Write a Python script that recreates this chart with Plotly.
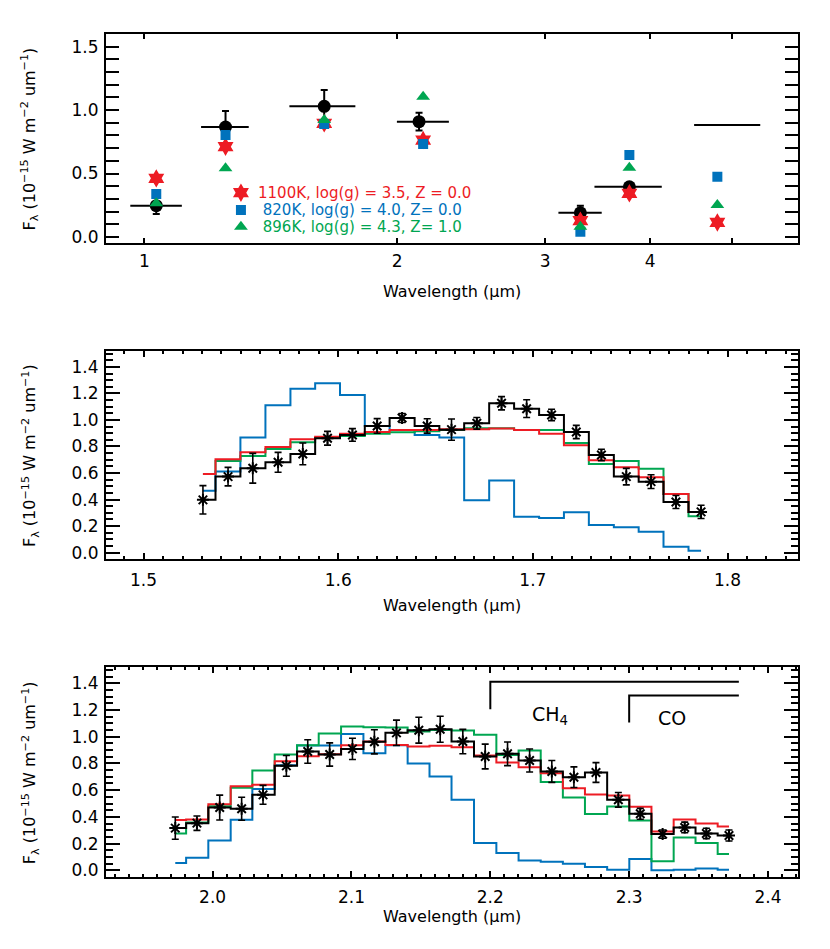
import math
import plotly.graph_objects as go

# ---------------- top panel: photometry + model photometry ----------------
phot_wave = [1.033, 1.249, 1.637, 2.123, 3.304, 3.779, 4.81]
phot_lo = [0.962, 1.168, 1.488, 1.998, 3.111, 3.434, 4.513]
phot_hi = [1.108, 1.331, 1.783, 2.304, 3.503, 4.130, 5.41]
phot_flux = [0.247, 0.867, 1.030, 0.909, 0.191, 0.396, 0.882]
phot_err = [0.066, 0.126, 0.128, 0.070, 0.055, 0.030, 0.0]

model_wave = [1.033, 1.249, 1.637, 2.147, 3.304, 3.779, 4.81]
red_phot = [0.462, 0.712, 0.896, 0.764, 0.128, 0.344, 0.115]
blue_phot = [0.339, 0.804, 0.890, 0.733, 0.042, 0.646, 0.475]
green_phot = [0.265, 0.541, 0.922, 1.106, 0.081, 0.546, 0.252]

model_names = ["1100K, log(g) = 3.5, Z = 0.0",
               " 820K, log(g) = 4.0, Z= 0.0",
               " 896K, log(g) = 4.3, Z= 1.0"]

# ---------------- middle panel: H band spectrum ----------------
h_wave = [1.5305, 1.5434, 1.5561, 1.5691, 1.5818, 1.5945, 1.6073, 1.6200, 1.6328, 1.6457, 1.6582,
          1.6712, 1.6839, 1.6968, 1.7096, 1.7223, 1.7352, 1.7480, 1.7607, 1.7735, 1.7864]
h_flux = [0.398, 0.573, 0.636, 0.681, 0.744, 0.862, 0.887, 0.955, 1.015, 0.955, 0.927,
          0.975, 1.126, 1.085, 1.038, 0.909, 0.736, 0.573, 0.535, 0.382, 0.307]
h_err = [0.107, 0.070, 0.112, 0.075, 0.082, 0.052, 0.048, 0.055, 0.034, 0.054, 0.080,
         0.044, 0.050, 0.067, 0.043, 0.050, 0.043, 0.062, 0.052, 0.049, 0.050]
h_red = [0.593, 0.703, 0.756, 0.796, 0.854, 0.874, 0.897, 0.909, 0.925, 0.925, 0.930,
         0.930, 0.935, 0.925, 0.897, 0.809, 0.696, 0.643, 0.568, 0.442, 0.307]
h_green = [0.593, 0.691, 0.729, 0.781, 0.832, 0.864, 0.879, 0.897, 0.907, 0.915, 0.925,
           0.937, 0.937, 0.925, 0.925, 0.827, 0.668, 0.691, 0.633, 0.442, 0.274]
h_blue = [0.467, 0.611, 0.867, 1.110, 1.236, 1.276, 1.188, 0.955, 0.925, 0.887, 0.867,
          0.394, 0.543, 0.271, 0.261, 0.304, 0.209, 0.191, 0.158, 0.045, 0.015]

# ---------------- bottom panel: K band spectrum ----------------
k_wave = [1.9731, 1.9887, 2.0051, 2.0209, 2.0363, 2.0531, 2.0685, 2.0843, 2.1007, 2.1165, 2.1324,
          2.1485, 2.1639, 2.1802, 2.1963, 2.2124, 2.2283, 2.2443, 2.2602, 2.2761, 2.2922, 2.3080,
          2.3241, 2.3400, 2.3556, 2.3719]
k_flux = [0.316, 0.353, 0.470, 0.461, 0.565, 0.782, 0.889, 0.867, 0.909, 0.962, 1.029,
          1.049, 1.056, 0.964, 0.852, 0.872, 0.822, 0.740, 0.697, 0.732, 0.528, 0.423,
          0.271, 0.321, 0.276, 0.261]
k_err = [0.083, 0.054, 0.093, 0.086, 0.071, 0.078, 0.088, 0.087, 0.080, 0.090, 0.095,
         0.097, 0.097, 0.091, 0.093, 0.088, 0.086, 0.082, 0.077, 0.074, 0.055, 0.041,
         0.031, 0.040, 0.039, 0.041]
k_red = [0.376, 0.381, 0.495, 0.630, 0.640, 0.817, 0.854, 0.869, 0.937, 0.964, 0.939,
         0.927, 0.932, 0.922, 0.859, 0.807, 0.772, 0.727, 0.615, 0.568, 0.560, 0.476,
         0.291, 0.381, 0.351, 0.328]
k_green = [0.276, 0.358, 0.480, 0.618, 0.747, 0.867, 0.937, 1.024, 1.076, 1.071, 1.069,
           1.039, 1.051, 1.046, 1.014, 0.864, 0.897, 0.662, 0.545, 0.421, 0.478, 0.373,
           0.067, 0.246, 0.204, 0.122]
k_blue = [0.054, 0.094, 0.224, 0.378, 0.608, 0.787, 0.934, 0.934, 1.021, 0.877, 0.937,
          0.799, 0.702, 0.528, 0.204, 0.129, 0.074, 0.064, 0.049, 0.024, 0.004, 0.084,
          0.000, 0.004, 0.014, 0.004]

RED, BLUE, GREEN = "#ed1c24", "#0072bc", "#00a651"
FONT = "DejaVu Sans"

fig = go.Figure()

# top panel
fig.add_trace(go.Scatter(
    x=phot_wave, y=phot_flux, mode="markers", xaxis="x", yaxis="y",
    marker=dict(color="black", size=13, opacity=[1 if e > 0 else 0 for e in phot_err]),
    error_x=dict(type="data", symmetric=False,
                 array=[h - w for h, w in zip(phot_hi, phot_wave)],
                 arrayminus=[w - l for w, l in zip(phot_wave, phot_lo)],
                 width=0, thickness=2, color="black"),
    error_y=dict(type="data", array=phot_err, width=3.5, thickness=2, color="black"),
    showlegend=False))
for vals, col, sym, size in [(red_phot, RED, "hexagram", 14),
                             (blue_phot, BLUE, "square", 10),
                             (green_phot, GREEN, "triangle-up", 12)]:
    fig.add_trace(go.Scatter(x=model_wave, y=vals, mode="markers", xaxis="x", yaxis="y",
                             marker=dict(color=col, symbol=sym, size=size, line_width=0),
                             showlegend=False))

# legend keys (overlay axis in the top panel)
key_x = 0.195
key_y = [0.242, 0.159, 0.079]
for name, col, sym, size, ky in zip(model_names, [RED, BLUE, GREEN],
                                    ["hexagram", "square", "triangle-up"], [14, 10, 12], key_y):
    fig.add_trace(go.Scatter(x=[key_x], y=[ky], mode="markers", xaxis="x4", yaxis="y4",
                             marker=dict(color=col, symbol=sym, size=size, line_width=0),
                             showlegend=False, hoverinfo="skip"))
    fig.add_annotation(x=key_x + 0.022, y=ky, xref="x4", yref="y4", text=name, showarrow=False,
                       xanchor="left", yanchor="middle", font=dict(color=col, size=15, family=FONT))

# spectra panels
for xa, ya, wave, flux, err, red, green, blue in [
        ("x2", "y2", h_wave, h_flux, h_err, h_red, h_green, h_blue),
        ("x3", "y3", k_wave, k_flux, k_err, k_red, k_green, k_blue)]:
    for vals, col in [(blue, BLUE), (green, GREEN), (red, RED), (flux, "black")]:
        fig.add_trace(go.Scatter(x=wave, y=vals, mode="lines", xaxis=xa, yaxis=ya,
                                 line=dict(color=col, width=2, shape="hvh"), showlegend=False))
    fig.add_trace(go.Scatter(
        x=wave, y=flux, mode="markers", xaxis=xa, yaxis=ya,
        marker=dict(symbol="asterisk-open", size=10, color="black", line=dict(color="black", width=2)),
        error_y=dict(type="data", array=err, width=3.5, thickness=1.6, color="black"),
        showlegend=False))

axis_common = dict(showline=True, linewidth=2, linecolor="black", mirror="ticks", ticks="inside",
                   tickcolor="black", tickwidth=1.5, showgrid=False, zeroline=False,
                   tickfont=dict(size=17, family=FONT, color="black"), automargin=False)

dom_top = [0.7517, 1.0]
dom_mid = [0.3769, 0.6240]
dom_bot = [0.0, 0.2488]

# the page body adds an 8 px margin, so the figure is 8 px smaller than the window
fig.update_layout(
    width=822, height=941, paper_bgcolor="white", plot_bgcolor="rgba(0,0,0,0)",
    margin=dict(l=98, r=32, t=26, b=72, autoexpand=False),
    font=dict(family=FONT, color="black"),
    xaxis=dict(axis_common, type="log", domain=[0, 1], anchor="y",
               range=[math.log10(0.9), math.log10(6.0)],
               tickvals=[1, 2, 3, 4, 5], ticktext=["1", "2", "3", "4", ""],
               ticklen=5, ticklabelstandoff=1),
    yaxis=dict(axis_common, domain=dom_top, anchor="x", range=[-0.05, 1.6],
               dtick=0.5, tickformat=".1f", ticklen=13, ticklabelstandoff=2,
               minor=dict(dtick=0.1, ticklen=13, ticks="inside", tickcolor="black", showgrid=False)),
    xaxis2=dict(axis_common, domain=[0, 1], anchor="y2", range=[1.4807, 1.8362],
                dtick=0.1, tickformat=".1f", ticklen=6, ticklabelstandoff=4,
                minor=dict(dtick=0.01, ticklen=3, ticks="inside", tickcolor="black", showgrid=False)),
    yaxis2=dict(axis_common, domain=dom_mid, anchor="x2", range=[-0.05, 1.52],
                dtick=0.2, tickformat=".1f", ticklen=14, ticklabelstandoff=2,
                minor=dict(dtick=0.05, ticklen=7, ticks="inside", tickcolor="black", showgrid=False)),
    xaxis3=dict(axis_common, domain=[0, 1], anchor="y3", range=[1.9232, 2.4216],
                dtick=0.1, tickformat=".1f", ticklen=6, ticklabelstandoff=4,
                minor=dict(dtick=0.01, ticklen=3, ticks="inside", tickcolor="black", showgrid=False)),
    yaxis3=dict(axis_common, domain=dom_bot, anchor="x3", range=[-0.05, 1.52],
                dtick=0.2, tickformat=".1f", ticklen=14, ticklabelstandoff=2,
                minor=dict(dtick=0.05, ticklen=7, ticks="inside", tickcolor="black", showgrid=False)),
    xaxis4=dict(domain=[0, 1], anchor="y4", range=[0, 1], visible=False, fixedrange=True),
    yaxis4=dict(domain=dom_top, anchor="x4", range=[0, 1], visible=False, fixedrange=True),
)

# axis titles
ytitle = "F<sub>λ</sub> (10<sup>−15</sup> W m<sup>−2</sup> um<sup>−1</sup>)"
for ypos in [0.876, 0.5004, 0.1242]:
    fig.add_annotation(x=-0.11, y=ypos, xref="paper", yref="paper", text=ytitle, textangle=-90,
                       showarrow=False, xanchor="center", yanchor="middle",
                       font=dict(size=16, family=FONT, color="black"))
for ypos in [0.694, 0.3215, -0.0465]:
    fig.add_annotation(x=0.5, y=ypos, xref="paper", yref="paper", text="Wavelength (μm)",
                       showarrow=False, xanchor="center", yanchor="middle",
                       font=dict(size=16, family=FONT, color="black"))

# CH4 / CO band markers
fig.add_shape(type="path", path="M 2.2,1.206 L 2.2,1.412 L 2.379,1.412", xref="x3", yref="y3",
              line=dict(color="black", width=2))
fig.add_shape(type="path", path="M 2.3,1.106 L 2.3,1.308 L 2.379,1.308", xref="x3", yref="y3",
              line=dict(color="black", width=2))
fig.add_annotation(x=2.243, y=1.16, xref="x3", yref="y3", text="CH<sub>4</sub>", showarrow=False,
                   font=dict(size=19, family=FONT, color="black"))
fig.add_annotation(x=2.331, y=1.14, xref="x3", yref="y3", text="CO", showarrow=False,
                   font=dict(size=19, family=FONT, color="black"))

fig.write_html("out.html", config={"displayModeBar": False})
